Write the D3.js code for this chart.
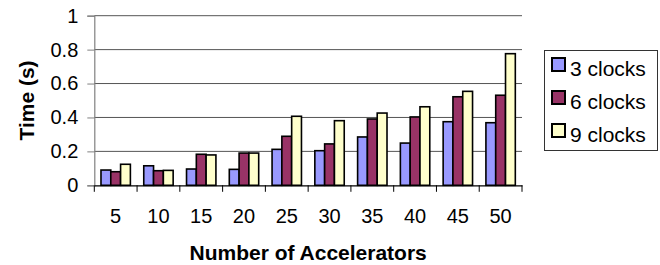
<!DOCTYPE html>
<html>
<head>
<meta charset="utf-8">
<script src="https://cdn.jsdelivr.net/npm/d3@7"></script>
<style>
  html, body { margin: 0; padding: 0; background: #fff; }
  text { font-family: "Liberation Sans", Arial, sans-serif; }
</style>
</head>
<body>
<svg id="chart" width="660" height="265"></svg>
<script>
const categories = ["5", "10", "15", "20", "25", "30", "35", "40", "45", "50"];
const seriesNames = ["3 clocks", "6 clocks", "9 clocks"];
const clocks3 = [0.09, 0.115, 0.096, 0.094, 0.212, 0.204, 0.285, 0.249, 0.375, 0.369];
const clocks6 = [0.08, 0.086, 0.183, 0.19, 0.289, 0.244, 0.391, 0.403, 0.522, 0.531];
const clocks9 = [0.124, 0.088, 0.179, 0.19, 0.407, 0.381, 0.426, 0.463, 0.554, 0.776];
const yTicks = [0, 0.2, 0.4, 0.6, 0.8, 1];
const colors = ["#9999FF", "#993366", "#FFFFCC"];

const seriesValues = [clocks3, clocks6, clocks9];

const svg = d3.select("#chart");
svg.append("rect").attr("width", 660).attr("height", 265).attr("fill", "#fff");

const plotL = 94.3, plotR = 522, plotT = 15.7, plotB = 185.3;

const y = d3.scaleLinear().domain([0, 1]).range([plotB, plotT]);
const x0 = d3.scaleBand().domain(categories).range([plotL, plotR]).padding(0);
const gap = (x0.bandwidth() - 29.4) / 2;
const x1 = d3.scaleBand().domain(seriesNames).range([gap, x0.bandwidth() - gap]).padding(0);

// gridlines
svg.append("g").selectAll("line")
  .data(yTicks.filter(d => d > 0))
  .join("line")
  .attr("x1", plotL).attr("x2", plotR)
  .attr("y1", d => y(d)).attr("y2", d => y(d))
  .attr("stroke", "#555").attr("stroke-width", 1);

// bars
const groups = svg.append("g").selectAll("g")
  .data(categories)
  .join("g")
  .attr("transform", c => `translate(${x0(c)},0)`);

groups.selectAll("rect")
  .data((c, i) => seriesNames.map((s, k) => ({ s, k, v: seriesValues[k][i] })))
  .join("rect")
  .attr("x", d => x1(d.s))
  .attr("width", x1.bandwidth())
  .attr("y", d => y(d.v))
  .attr("height", d => y(0) - y(d.v))
  .attr("fill", d => colors[d.k])
  .attr("stroke", "#000")
  .attr("stroke-width", 1.6);

// y axis
const yAxis = svg.append("g")
  .attr("transform", `translate(${plotL},0)`)
  .call(d3.axisLeft(y).tickValues(yTicks).tickFormat(d3.format("")).tickSize(7).tickPadding(9));
yAxis.select(".domain").attr("stroke", "#808080").attr("stroke-width", 1.2);
yAxis.selectAll(".tick line").attr("stroke", "#808080");
yAxis.selectAll(".tick text").attr("font-size", 20).attr("fill", "#000")
  .attr("font-family", "Liberation Sans, Arial, sans-serif");

// x axis
const xAxis = svg.append("g")
  .attr("transform", `translate(0,${plotB})`)
  .call(d3.axisBottom(x0).tickSize(0).tickPadding(24));
xAxis.select(".domain").attr("stroke", "#000").attr("stroke-width", 1.2);
xAxis.selectAll(".tick text").attr("font-size", 20).attr("fill", "#000")
  .attr("font-family", "Liberation Sans, Arial, sans-serif");
// category boundary ticks
const bounds = categories.map(c => x0(c)).concat([x0(categories[categories.length - 1]) + x0.bandwidth()]);
svg.append("g").selectAll("line").data(bounds).join("line")
  .attr("x1", d => d).attr("x2", d => d)
  .attr("y1", plotB).attr("y2", plotB + 6.5)
  .attr("stroke", "#000").attr("stroke-width", 1);

// axis titles
svg.append("text")
  .attr("x", (plotL + plotR) / 2).attr("y", 260)
  .attr("text-anchor", "middle")
  .attr("font-size", 21).attr("font-weight", "bold")
  .text("Number of Accelerators");

svg.append("text")
  .attr("transform", `translate(33.5,${(plotT + plotB) / 2}) rotate(-90)`)
  .attr("text-anchor", "middle")
  .attr("font-size", 21).attr("font-weight", "bold")
  .text("Time (s)");

// legend
const lg = svg.append("g");
lg.append("rect").attr("x", 544.5).attr("y", 50.5).attr("width", 113).attr("height", 100)
  .attr("fill", "#fff").attr("stroke", "#333").attr("stroke-width", 1);
const items = lg.selectAll("g.item").data(seriesNames).join("g").attr("class", "item")
  .attr("transform", (d, i) => `translate(0,${i * 33})`);
items.append("rect").attr("x", 552).attr("y", 58).attr("width", 13).attr("height", 13)
  .attr("fill", (d, i) => colors[i]).attr("stroke", "#000").attr("stroke-width", 2);
items.append("text").attr("x", 570).attr("y", 75.5)
  .attr("font-size", 21).text(d => d);
</script>
</body>
</html>
